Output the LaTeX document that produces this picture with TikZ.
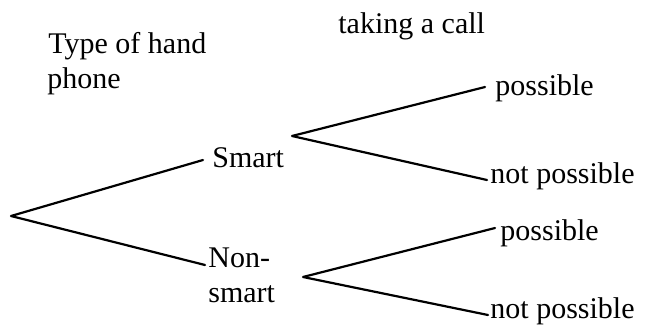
\documentclass[tikz,border=0pt]{standalone}
\usepackage{fontspec}
\setmainfont{Liberation Serif}
\begin{document}
\begin{tikzpicture}[x=0.5pt,y=-0.5pt,
  lbl/.style={anchor=base west,inner sep=0pt,font=\fontsize{15}{17.5}\selectfont},
  branch/.style={line width=1.1pt,line cap=round,line join=round}]
\useasboundingbox (0,0) rectangle (651,332);
% headings
\node[lbl] (h1a) at (48,53) {Type of hand};
\node[lbl] (h1b) at (47,88) {phone};
\node[lbl] (h2) at (338,33) {taking a call};
% first level
\coordinate (root) at (11,216);
\node[lbl] (smart) at (212,167) {Smart};
\node[lbl] (non) at (208,267) {Non-};
\node[lbl] (nonb) at (208,302) {smart};
% second level
\coordinate (v1) at (292,136);
\coordinate (v2) at (303,277);
\node[lbl] (p1) at (495,95) {possible};
\node[lbl] (n1) at (490,183) {not possible};
\node[lbl] (p2) at (500,240) {possible};
\node[lbl] (n2) at (490,318) {not possible};
% branches
\draw[branch] ([shift={(-9,-7)}]smart.base west) -- (root) -- ([shift={(-3,-2)}]non.base west);
\draw[branch] ([shift={(-10,-8)}]p1.base west) -- (v1) -- ([shift={(-3,-3)}]n1.base west);
\draw[branch] ([shift={(-5,-12)}]p2.base west) -- (v2) -- ([shift={(-2,-3)}]n2.base west);
\end{tikzpicture}
\end{document}
